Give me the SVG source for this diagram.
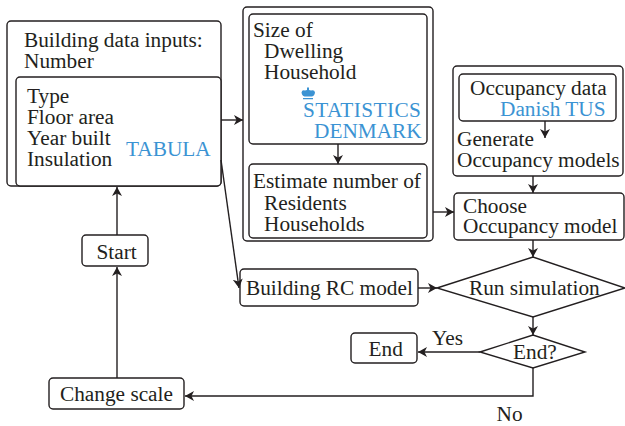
<svg xmlns="http://www.w3.org/2000/svg" width="625" height="426" viewBox="0 0 625 426">
<style>
.b{fill:#fff;stroke:#231f20;stroke-width:1.4}
.c{fill:none;stroke:#231f20;stroke-width:1.4}
text{font-family:"Liberation Serif","Times New Roman",serif;font-size:21.3px;fill:#231f20}
.t{fill:#3b93d3}
</style>
<defs><marker id="a" markerUnits="userSpaceOnUse" markerWidth="10" markerHeight="12" refX="9" refY="5" orient="auto"><path d="M0 0L9 5L0 10L2.500 5Z" fill="#231f20"/></marker></defs>
<rect width="625" height="426" fill="#fff"/>
<g id="building"><rect class="b" x="7" y="21" width="214" height="165" rx="4"/><text x="24" y="47">Building data inputs:</text><text x="24" y="68">Number</text></g>
<g id="building-inner"><rect class="b" x="16" y="77" width="205" height="109" rx="4"/><text x="27" y="103">Type</text><text x="27" y="124">Floor area</text><text x="27" y="145">Year built</text><text x="27" y="166">Insulation</text><text class="t" x="126" y="156">TABULA</text></g>
<g id="statistics-group"><rect class="b" x="243" y="7" width="190" height="234" rx="4"/></g>
<g id="size"><rect class="b" x="249" y="14" width="178" height="130" rx="4"/><text x="253" y="37">Size of</text><text x="264" y="58">Dwelling</text><text x="264" y="79">Household</text>
<path class="t" d="M301.500 92.500Q302 89.500 305 90.500L307 90V87.500H309V90L311 90.500Q314.500 89.500 315 92.500Q314.500 96 312 96.500H304.500Q302 96 301.500 92.500ZM303 98H313V99.200H303Z"/><text class="t" x="303" y="117" letter-spacing=".4">STATISTICS</text><text class="t" x="314" y="138">DENMARK</text></g>
<g id="estimate"><rect class="b" x="249" y="164" width="178" height="74" rx="4"/><text x="253" y="188">Estimate number of</text><text x="264" y="210">Residents</text><text x="264" y="231">Households</text></g>
<g id="occupancy"><rect class="b" x="453" y="66" width="170" height="110" rx="4"/><text x="457" y="146">Generate</text><text x="457" y="167">Occupancy models</text></g>
<g id="occupancy-data"><rect class="b" x="459" y="74" width="157" height="47" rx="4"/><text x="470" y="95">Occupancy data</text><text class="t" x="500" y="116">Danish TUS</text></g>
<g id="choose"><rect class="b" x="454" y="193" width="170" height="47" rx="4"/><text x="463" y="213">Choose</text><text x="463" y="233">Occupancy model</text></g>
<g id="rc"><rect class="b" x="240" y="269" width="178" height="37" rx="4"/><text x="246" y="295">Building RC model</text></g>
<g id="run"><path class="b" d="M437 288L533 257L625 288L533 317Z"/><text x="469" y="295">Run simulation</text></g>
<g id="end-q"><path class="b" d="M480 352L533 335L585 352L533 368Z"/><text x="513" y="359">End?</text></g>
<g id="end"><rect class="b" x="351" y="333" width="66" height="30" rx="4"/><text x="368.500" y="356">End</text></g>
<g id="start"><rect class="b" x="82" y="235" width="66" height="31" rx="4"/><text x="96.500" y="259">Start</text></g>
<g id="change"><rect class="b" x="49" y="378" width="135" height="31" rx="4"/><text x="60" y="401">Change scale</text></g>
<g id="connectors">
<path class="c" marker-end="url(#a)" d="M117 235V187"/>
<path class="c" marker-end="url(#a)" d="M117 378V267"/>
<path class="c" marker-end="url(#a)" d="M221 120H243"/>
<path class="c" marker-end="url(#a)" d="M221 160L239 288"/>
<path class="c" marker-end="url(#a)" d="M338 144V164"/>
<path class="c" marker-end="url(#a)" d="M433 212H454"/>
<path class="c" marker-end="url(#a)" d="M545 121V138"/>
<path class="c" marker-end="url(#a)" d="M533 176V193"/>
<path class="c" marker-end="url(#a)" d="M533 240V257"/>
<path class="c" marker-end="url(#a)" d="M418 288H437"/>
<path class="c" marker-end="url(#a)" d="M533 317V335"/>
<path class="c" marker-end="url(#a)" d="M480 352H418"/>
<path class="c" marker-end="url(#a)" d="M533 368V396H185"/>
</g>
<text x="432" y="345">Yes</text>
<text x="496.500" y="421">No</text>
</svg>
